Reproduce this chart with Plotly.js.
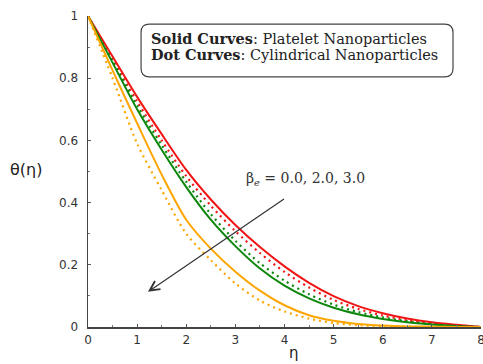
<!DOCTYPE html>
<html>
<head>
<meta charset="utf-8">
<script src="https://cdn.plot.ly/plotly-3.0.1.min.js"></script>
<style>html,body{margin:0;padding:0;background:#fff;}#chart{width:483px;height:364px;}</style>
</head>
<body>
<div id="chart"></div>
<script>
// eta grid
const eta = [0,0.5,1,1.5,2,2.5,3,3.5,4,4.5,5,5.5,6,6.5,7,7.5,8];
// Solid curves: Platelet nanoparticles
const redSolid    = [1,0.87,0.74,0.62,0.505,0.41,0.328,0.257,0.195,0.142,0.099,0.067,0.044,0.027,0.015,0.007,0];
const greenSolid  = [1,0.85,0.70,0.57,0.45,0.345,0.26,0.188,0.133,0.092,0.062,0.041,0.026,0.015,0.008,0.003,0];
const orangeSolid = [1,0.825,0.655,0.49,0.345,0.252,0.178,0.117,0.07,0.038,0.02,0.01,0.005,0.002,0.001,0,0];
// Dot curves: Cylindrical nanoparticles
const redDot    = [1,0.86,0.725,0.60,0.485,0.39,0.308,0.238,0.177,0.127,0.087,0.058,0.037,0.022,0.011,0.005,0];
const greenDot  = [1,0.855,0.712,0.585,0.467,0.363,0.277,0.205,0.149,0.105,0.072,0.048,0.031,0.018,0.009,0.004,0];
const orangeDot = [1,0.80,0.59,0.44,0.30,0.215,0.14,0.085,0.05,0.027,0.013,0.006,0.003,0.001,0,0,0];

const RED = '#f01414', GREEN = '#0c870c', ORANGE = '#ffa500';
function tr(y, color, dash) {
  return {x: eta, y: y, type: 'scatter', mode: 'lines',
    line: {color: color, width: dash ? 2.2 : 2, dash: dash || 'solid', shape: 'spline', smoothing: 0.8},
    hoverinfo: 'skip', showlegend: false};
}
const traces = [
  tr(redDot, RED, '2px,4px'), tr(greenDot, GREEN, '2px,4px'), tr(orangeDot, ORANGE, '2px,4px'),
  tr(redSolid, RED), tr(greenSolid, GREEN), tr(orangeSolid, ORANGE)
];

// rounded legend box in data coordinates
const bx0 = 1.08, bx1 = 7.43, by0 = 0.804, by1 = 0.974, rx = 0.17, ry = 0.027;
const boxPath = `M ${bx0+rx},${by1} L ${bx1-rx},${by1} Q ${bx1},${by1} ${bx1},${by1-ry} L ${bx1},${by0+ry} Q ${bx1},${by0} ${bx1-rx},${by0} L ${bx0+rx},${by0} Q ${bx0},${by0} ${bx0},${by0+ry} L ${bx0},${by1-ry} Q ${bx0},${by1} ${bx0+rx},${by1} Z`;

const tickFont = {family: 'DejaVu Sans', size: 12, color: '#333'};
const serif = {family: 'DejaVu Serif', size: 14.5, color: '#222'};
const layout = {
  width: 483, height: 364,
  margin: {l: 88, r: 2, t: 16, b: 37},
  paper_bgcolor: '#fff', plot_bgcolor: '#fff',
  xaxis: {range: [0, 8], dtick: 1, tick0: 0, showgrid: false, zeroline: false,
    showline: true, linecolor: '#444', linewidth: 1.5, ticks: 'inside', ticklen: 3, tickcolor: '#555',
    minor: {dtick: 0.5, ticks: 'inside', ticklen: 2, tickcolor: '#777'},
    tickfont: tickFont, ticklabelstandoff: 1, ticklabeloverflow: 'allow'},
  yaxis: {range: [0, 1], dtick: 0.2, tick0: 0, showgrid: false, zeroline: false,
    showline: true, linecolor: '#444', linewidth: 1.5, ticks: 'inside', ticklen: 3, tickcolor: '#555',
    minor: {dtick: 0.1, ticks: 'inside', ticklen: 2, tickcolor: '#777'},
    tickfont: tickFont, ticklabelstandoff: 6, ticklabeloverflow: 'allow'},
  shapes: [{type: 'path', path: boxPath, xref: 'x', yref: 'y', line: {color: '#444', width: 1.2}, fillcolor: 'rgba(0,0,0,0)'}],
  annotations: [
    {xref: 'x', yref: 'y', x: 1.25, y: 0.929, xanchor: 'left', yanchor: 'middle', showarrow: false, align: 'left',
     text: '<b>Solid Curves</b>: Platelet Nanoparticles', font: serif},
    {xref: 'x', yref: 'y', x: 1.25, y: 0.877, xanchor: 'left', yanchor: 'middle', showarrow: false, align: 'left',
     text: '<b>Dot Curves</b>: Cylindrical Nanoparticles', font: serif},
    {xref: 'x', yref: 'y', x: 1.22, y: 0.113, ax: 4.02, ay: 0.415, axref: 'x', ayref: 'y',
     text: '', showarrow: true, arrowhead: 5, arrowsize: 1.6, arrowwidth: 1.2, arrowcolor: '#333'},
    {xref: 'x', yref: 'y', x: 3.18, y: 0.475, xanchor: 'left', yanchor: 'middle', showarrow: false,
     text: 'β<sub><i>e</i></sub> = 0.0, 2.0, 3.0', font: {family: 'DejaVu Serif', size: 14, color: '#333'}},
    {xref: 'paper', yref: 'paper', x: -0.157, y: 0.505, xanchor: 'center', yanchor: 'middle', showarrow: false,
     text: 'θ(η)', font: {family: 'DejaVu Sans', size: 16, color: '#222'}},
    {xref: 'paper', yref: 'paper', x: 0.523, y: -0.085, xanchor: 'center', yanchor: 'middle', showarrow: false,
     text: 'η', font: {family: 'DejaVu Sans', size: 15, color: '#222'}}
  ]
};
Plotly.newPlot('chart', traces, layout, {staticPlot: true, displayModeBar: false});
</script>
</body>
</html>
